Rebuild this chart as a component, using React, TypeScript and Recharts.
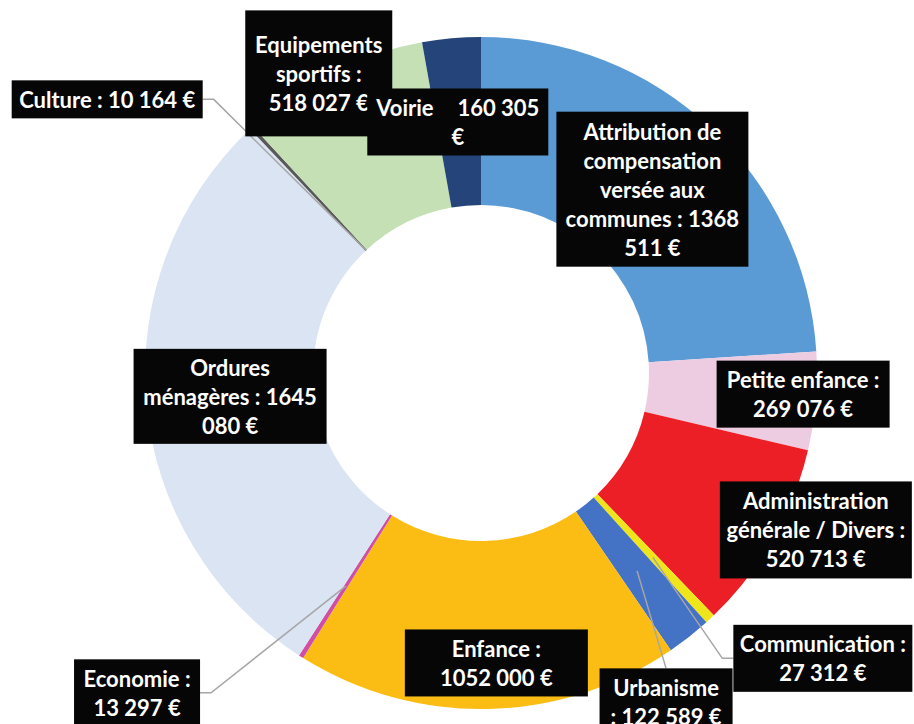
import { PieChart, Pie, Cell } from 'recharts';

const categories = [
  'Attribution de compensation versée aux communes',
  'Petite enfance',
  'Administration générale / Divers',
  'Communication',
  'Urbanisme',
  'Enfance',
  'Economie',
  'Ordures ménagères',
  'Culture',
  'Equipements sportifs',
  'Voirie',
];

const amounts = [
  1368511, 269076, 520713, 27312, 122589, 1052000, 13297, 1645080, 10164,
  518027, 160305,
];

const sliceColors = [
  '#5B9BD5',
  '#EDCCE2',
  '#ED1F26',
  '#EEE61B',
  '#4472C4',
  '#FBBD14',
  '#CF4FA6',
  '#DAE4F2',
  '#595959',
  '#C5E0B4',
  '#25457A',
];

const labelLines = [
  ['Attribution de', 'compensation', 'versée aux', 'communes : 1368', '511 €'],
  ['Petite enfance :', '269 076 €'],
  ['Administration', 'générale / Divers :', '520 713 €'],
  ['Communication :', '27 312 €'],
  ['Urbanisme', ': 122 589 €'],
  ['Enfance :', '1052 000 €'],
  ['Economie :', '13 297 €'],
  ['Ordures', 'ménagères : 1645', '080 €'],
  ['Culture : 10 164 €'],
  ['Equipements', 'sportifs :', '518 027 €'],
  ['Voirie|160 305', '€'],
];

// label box placement relative to the slice anchor (Excel-style manual drag)
// r: anchor radius (0 = inner, 0.5 = middle, 1 = outer), dx/dy: box centre offset
// leader: none | left | right | top
const labelLayout = [
  { r: 0.5, dx: -1, dy: 0, w: 192, h: 155, leader: 'none' },
  { r: 0.5, dx: 71, dy: 0, w: 173, h: 67, leader: 'none' },
  { r: 0.5, dx: 116, dy: 32, w: 192, h: 97, leader: 'none' },
  { r: 0.5, dx: 170, dy: 101, w: 179, h: 67, leader: 'left' },
  { r: 0.5, dx: 29, dy: 131, w: 133, h: 67, leader: 'top' },
  { r: 0.5, dx: 10, dy: 38, w: 183, h: 67, leader: 'none' },
  { r: 0.5, dx: -209, dy: 107, w: 126, h: 67, leader: 'right' },
  { r: 0.5, dx: 0, dy: 0, w: 193, h: 95, leader: 'none' },
  { r: 0.0, dx: -259, dy: -151, w: 191, h: 38, leader: 'right' },
  { r: 0.5, dx: -50, dy: -74, w: 147, h: 126, leader: 'none' },
  { r: 0.5, dx: -1, dy: 0, w: 181, h: 67, leader: 'none' },
];

const chartData = categories.map((name, i) => ({ name, value: amounts[i] }));

const RAD = Math.PI / 180;
const LINE_H = 29;
const FONT = 'Lato, "Liberation Sans", sans-serif';
const FONT_SIZE = 22;

function renderLabel(props: any) {
  const { cx, cy, midAngle, innerRadius, outerRadius, index } = props;
  const lay = labelLayout[index];
  const lines = labelLines[index];
  const rad = innerRadius + (outerRadius - innerRadius) * lay.r;
  const ax = cx + rad * Math.cos(-midAngle * RAD);
  const ay = cy + rad * Math.sin(-midAngle * RAD);
  const bx = ax + lay.dx;
  const by = ay + lay.dy;
  const left = bx - lay.w / 2;
  const right = bx + lay.w / 2;
  const top = by - lay.h / 2;

  let leader = null;
  if (lay.leader === 'right') {
    leader = `M${ax},${ay} L${right + 11},${by} L${right},${by}`;
  } else if (lay.leader === 'left') {
    leader = `M${ax},${ay} L${left - 11},${by} L${left},${by}`;
  } else if (lay.leader === 'top') {
    leader = `M${ax},${ay} L${bx},${top}`;
  }

  const firstY = by - ((lines.length - 1) * LINE_H) / 2;
  const txt = {
    fill: '#fff',
    fontFamily: FONT,
    fontWeight: 700,
    fontSize: FONT_SIZE,
    dominantBaseline: 'central' as const,
  };

  return (
    <g key={`lbl-${index}`}>
      {leader && (
        <path d={leader} fill='none' stroke='#A6A6A6' strokeWidth={1.5} />
      )}
      <rect x={left} y={top} width={lay.w} height={lay.h} fill='#060606' />
      {lines.map((line, j) => {
        const y = firstY + j * LINE_H;
        if (line.includes('|')) {
          const [a, b] = line.split('|');
          return (
            <g key={j}>
              <text x={left + 9} y={y} textAnchor='start' {...txt}>
                {a}
              </text>
              <text x={right - 9} y={y} textAnchor='end' {...txt}>
                {b}
              </text>
            </g>
          );
        }
        return (
          <text key={j} x={bx} y={y} textAnchor='middle' {...txt}>
            {line}
          </text>
        );
      })}
    </g>
  );
}

export default function App() {
  return (
    <div style={{ position: 'absolute', left: 0, top: 0, width: 914, height: 724, background: '#fff' }}>
      <PieChart width={914} height={724} margin={{ top: 0, right: 0, bottom: 0, left: 0 }}>
        <Pie
          data={chartData}
          dataKey='value'
          nameKey='name'
          cx={481}
          cy={373}
          innerRadius={168}
          outerRadius={336}
          startAngle={90}
          endAngle={-270}
          stroke='none'
          label={renderLabel}
          labelLine={false}
          isAnimationActive={false}
        >
          {chartData.map((d, i) => (
            <Cell key={d.name} fill={sliceColors[i]} />
          ))}
        </Pie>
      </PieChart>
    </div>
  );
}
